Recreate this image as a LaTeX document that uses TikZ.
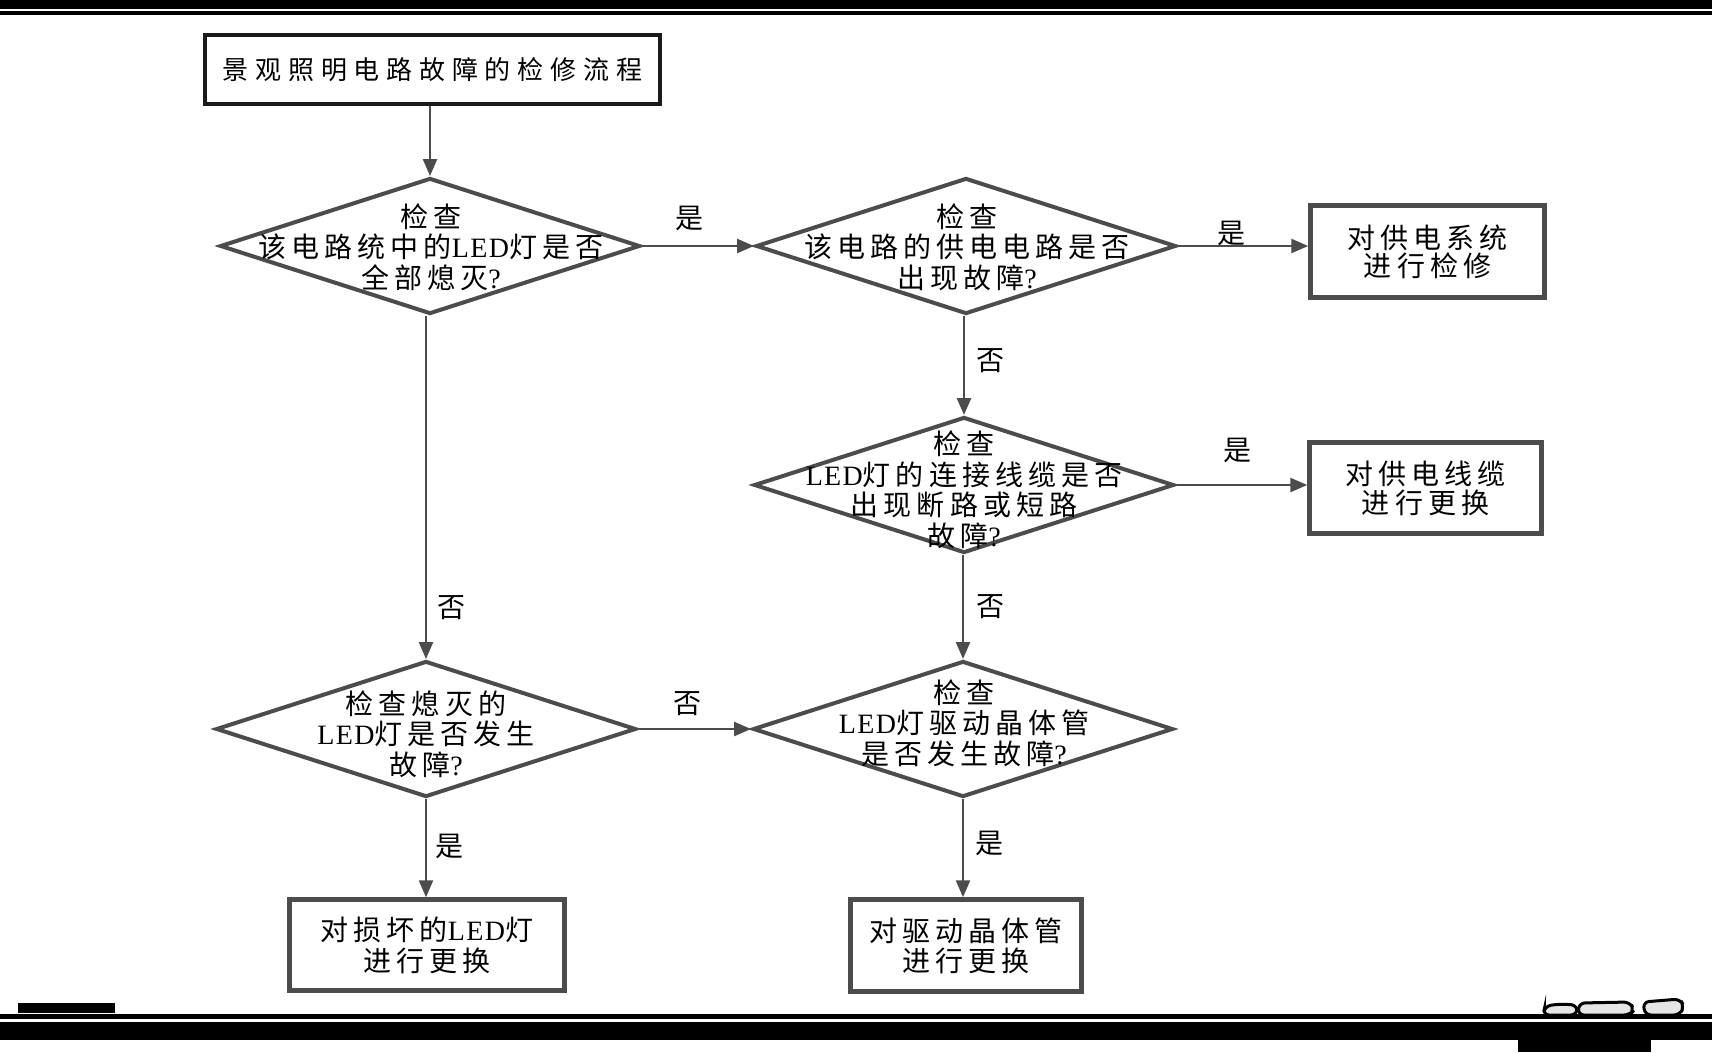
\documentclass[tikz,border=0pt]{standalone}
\usepackage{fontspec}
\setmainfont{Noto Sans CJK SC}[LetterSpace=18]
\newfontfamily\titf{Noto Sans CJK SC}[LetterSpace=26]
\newfontfamily\latf{Liberation Serif}[LetterSpace=5]
\newcommand\latn[1]{{\latf #1}}
\usetikzlibrary{arrows.meta,shapes.geometric}
\definecolor{dg}{HTML}{4C4C4C}
\definecolor{tb}{HTML}{1A1A1A}
\tikzset{
  dia/.style={diamond, draw=dg, line width=4pt, minimum width=420pt, minimum height=136pt, inner sep=0pt},
  txt/.style={align=center, inner sep=0pt, font=\fontsize{28}{30.5}\selectfont},
  box/.style={draw=dg, line width=4.5pt, inner sep=0pt, align=center},
  lab/.style={inner sep=0pt, font=\fontsize{28}{30}\selectfont},
  arr/.style={draw=dg, line width=2.5pt, -{Triangle[length=17pt,width=14pt]}},
  bar/.style={fill=black, draw=none},
  blob/.style={draw=black, line width=3pt, fill=gray!20, rounded corners=6pt}
}
\begin{document}
\begin{tikzpicture}[x=1pt,y=-1pt]
\useasboundingbox (0,0) rectangle (1712,1052);
\fill[white] (0,0) rectangle (1712,1052);
% page bars
\fill[bar] (0,0) rectangle (1712,9);
\fill[bar] (0,10.5) rectangle (1712,15);
\fill[bar] (18,1003) rectangle (115,1013);
\fill[bar] (0,1014) rectangle (1712,1019);
\fill[bar] (0,1022) rectangle (1712,1040);
\fill[bar] (1518,1040) rectangle (1651,1052);
\draw[blob] (1543,1015) -- (1545,1006) -- (1560,1004) -- (1577,1005) -- (1577,1015) -- cycle;
\draw[blob] (1578,1015) -- (1579,1003) -- (1630,1002) -- (1634,1010) -- (1630,1015) -- cycle;
\draw[blob] (1645,1015) -- (1643,1002) -- (1680,999) -- (1684,1006) -- (1680,1015) -- cycle;

% title
\node[box, draw=tb, line width=4pt, minimum width=455pt, minimum height=69pt, font=\titf\fontsize{26}{30}\selectfont] (title) at (432.5,69.5) {景观照明电路故障的检修流程};

% diamonds
\node[dia] (d1) at (430,246) {};
\node[txt] (t1) at (431,247) {检查\\该电路统中的\latn{LED}灯是否\\全部熄灭\latn{?}};
\node[dia] (d2) at (966,246) {};
\node[txt] (t2) at (967,247) {检查\\该电路的供电电路是否\\出现故障\latn{?}};
\node[dia] (d3) at (964,485) {};
\node[txt] (t3) at (964,490) {检查\\\latn{LED}灯的连接线缆是否\\出现断路或短路\\故障\latn{?}};
\node[dia] (d4) at (426,729) {};
\node[txt] (t4) at (426,734) {检查熄灭的\\\latn{LED}灯是否发生\\故障\latn{?}};
\node[dia] (d5) at (963,729) {};
\node[txt] (t5) at (964,723) {检查\\\latn{LED}灯驱动晶体管\\是否发生故障\latn{?}};

% result boxes
\node[box, minimum width=234pt, minimum height=92pt, font=\fontsize{28}{28}\selectfont] (r1) at (1427.5,251.5) {对供电系统\\进行检修};
\node[box, minimum width=232pt, minimum height=91pt, font=\fontsize{28}{29}\selectfont] (r2) at (1425.5,488) {对供电线缆\\进行更换};
\node[box, minimum width=275pt, minimum height=91pt, font=\fontsize{28}{31}\selectfont] (r3) at (427,945) {对损坏的\latn{LED}灯\\进行更换};
\node[box, minimum width=231pt, minimum height=92pt, font=\fontsize{28}{30}\selectfont] (r4) at (966,945.5) {对驱动晶体管\\进行更换};

% connectors
\draw[arr] (title.south -| d1.north) -- (d1.north);
\draw[arr] (d1.east) -- (d2.west);
\draw[arr] (d2.east) -- (r1.west |- d2.east);
\draw[arr] (d2.south -| d3.north) -- (d3.north);
\draw[arr] (d3.east) -- (r2.west |- d3.east);
\draw[arr] (d3.south -| d5.north) -- (d5.north);
\draw[arr] (d1.south -| d4.north) -- (d4.north);
\draw[arr] (d4.east) -- (d5.west);
\draw[arr] (d4.south) -- (d4.south |- r3.north);
\draw[arr] (d5.south) -- (d5.south |- r4.north);

% labels
\node[lab] (l1) at (689,218) {是};
\node[lab] (l2) at (1231,233) {是};
\node[lab] (l3) at (990,361) {否};
\node[lab] (l4) at (1237,450) {是};
\node[lab] (l5) at (990,607) {否};
\node[lab] (l6) at (451,608) {否};
\node[lab] (l7) at (687,704) {否};
\node[lab] (l8) at (449,846) {是};
\node[lab] (l9) at (989,843) {是};
\end{tikzpicture}
\end{document}
